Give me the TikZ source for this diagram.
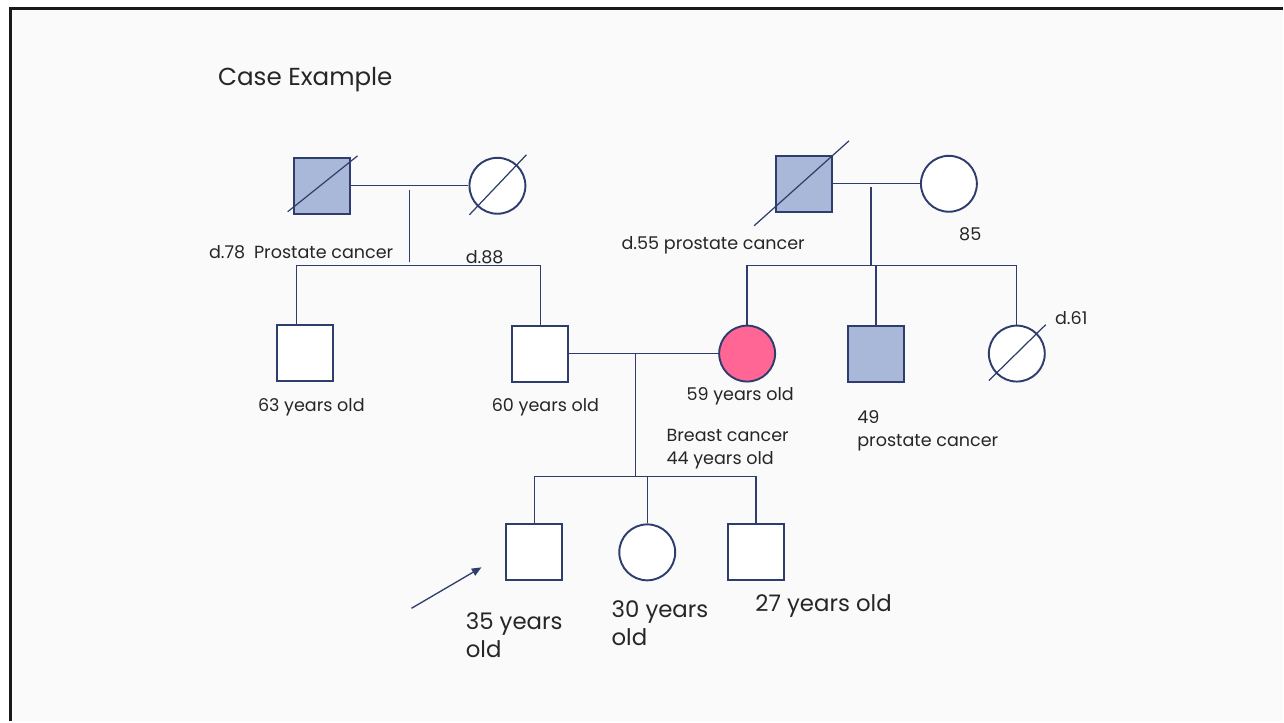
\documentclass[tikz,border=0pt]{standalone}
\usepackage{fontspec}
\setmainfont{Poppins}
\usetikzlibrary{calc,arrows.meta}
\definecolor{pedline}{HTML}{2E3D6E}
\definecolor{affected}{HTML}{A9B7D8}
\definecolor{bcpink}{HTML}{FF6695}
\definecolor{slide}{HTML}{FAFAFA}
\newcommand{\tikzDeceased}[3]{
  \draw[pedline,line width=0.7pt] (#1) ++(#2) -- ++(#3);
}

\begin{document}
\begin{tikzpicture}[x=0.02cm, y=-0.02cm,
  conn/.style={pedline,line width=0.75pt},
  male/.style={draw=pedline,line width=1.1pt,rectangle,fill=white,minimum size=1.12cm,inner sep=0pt},
  female/.style={draw=pedline,line width=1.1pt,circle,fill=white,minimum size=1.12cm,inner sep=0pt},
  lbl/.style={anchor=west,inner sep=0pt,text=black!85,align=left,font=\fontsize{10}{13}\selectfont},
  biglbl/.style={lbl,font=\fontsize{13}{16}\selectfont}]
  % slide and frame
  \fill[white] (0,0) rectangle (1284,722);
  \fill[slide] (10,8) rectangle (1284,722);
  \draw[black!90,line width=1.7pt] (10.5,722) -- (10.5,8.5) -- (1284,8.5);
  \useasboundingbox (0,0) rectangle (1284,722);

  \node [anchor=west,inner sep=0pt,text=black!85,font=\fontsize{14}{16}\selectfont] (title) at (218,80) {Case Example};

  % father's parents
  \node [male,fill=affected] (gf1) at (322,186) {};
  \node [female] (gm1) at (498,186) {};
  \tikzDeceased{gf1}{-34,26}{70,-56}
  \tikzDeceased{gm1}{-28,29}{57,-60}
  \draw[conn] (gf1) -- (gm1);
  \coordinate (desc1) at (410,262);
  \draw[conn] ($(gf1)!.5!(gm1)+(0,4)$) -- (desc1);
  \node [lbl] (l78) at (209,252) {d.78\enspace Prostate cancer};
  \node [lbl] (l88) at (466,257) {d.88};

  \node [male] (u63) at (305.5,353) {};
  \node [male] (f60) at (541,354) {};
  \coordinate (sib1L) at (297,266);
  \coordinate (sib1R) at (541,266);
  \draw[conn] (u63.north -| sib1L) -- (sib1L) -- (sib1R) -- (f60.north);
  \node [lbl] (l63) at (258,408) {63 years old};
  \node [lbl] (l60) at (492,408) {60 years old};

  % mother's parents
  \node [male,fill=affected] (gf2) at (805,184) {};
  \node [female] (gm2) at (950,184) {};
  \tikzDeceased{gf2}{-50,42}{95,-85}
  \draw[conn] (gf2) -- (gm2);
  \coordinate (desc2) at (872,266);
  \draw[pedline,line width=1.4pt] (gf2.east -| desc2) ++(0,3) -- (desc2);
  \node [lbl] (l55) at (622,246) {d.55 prostate cancer};
  \node [lbl] (l85) at (960,235) {85};

  \node [female,fill=bcpink] (m59) at (748,354) {};
  \node [male,fill=affected] (u49) at (877,354) {};
  \node [female] (a61) at (1018,354) {};
  \tikzDeceased{a61}{-28,27}{57,-56}
  \coordinate (sib2L) at (748,266);
  \coordinate (sib2R) at (1018,266);
  \draw[conn] (m59.north) -- (sib2L) -- (sib2R) -- (a61.north);
  \draw[conn] (u49.north) -- (u49.north |- sib2L);
  \node [lbl] (l59) at (687,397) {59 years old};
  \node [lbl] (lbc) at (667,450) {Breast cancer\\44 years old};
  \node [lbl] (l49) at (858,431) {49\\prostate cancer};
  \node [lbl] (l61) at (1056,318) {d.61};

  % parents and their children
  \draw[conn] (f60) -- (m59);
  \coordinate (desc3) at (636,477);
  \draw[conn] (f60 -| desc3) -- (desc3);
  \node [male] (s35) at (535,553) {};
  \node [female] (d30) at (648,553) {};
  \node [male] (s27) at (757,553) {};
  \coordinate (sib3L) at (535,477);
  \coordinate (sib3R) at (757,477);
  \draw[conn] (s35.north) -- (sib3L) -- (sib3R) -- (s27.north);
  \draw[conn] (d30.north) -- (d30.north |- sib3L);
  \node [biglbl] (l35) at (466,636) {35 years\\old};
  \node [biglbl] (l30) at (612,624) {30 years\\old};
  \node [biglbl] (l27) at (756,607) {27 years old};

  % proband
  \coordinate (ptrA) at (412,609);
  \coordinate (ptrB) at (482,568);
  \draw[conn,-{Triangle[length=5.5pt,width=4.5pt]}] (ptrA) -- (ptrB);
\end{tikzpicture}
\end{document}
